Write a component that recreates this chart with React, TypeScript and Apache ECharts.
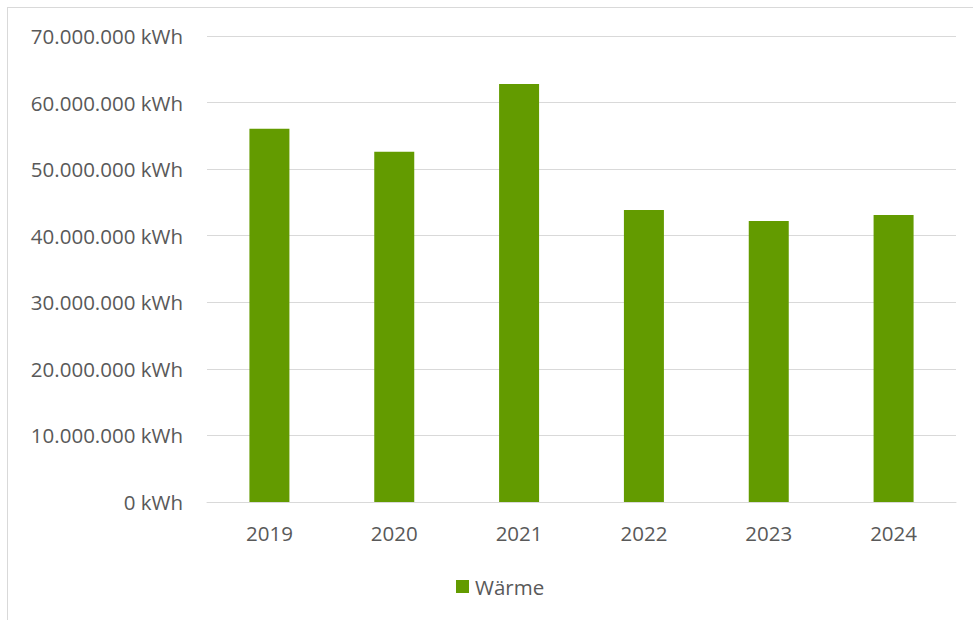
import React, { useEffect, useRef } from "react";
import * as echarts from "echarts";

const categories = ["2019", "2020", "2021", "2022", "2023", "2024"];
const waermeValues = [56050000, 52600000, 62800000, 43850000, 42200000, 43100000];
const seriesName = "Wärme";
const yMin = 0;
const yMax = 70000000;
const yInterval = 10000000;

function fmt(v: number): string {
  const s = Math.round(v).toString();
  return s.replace(/\B(?=(\d{3})+(?!\d))/g, ".") + " kWh";
}

export default function App() {
  const ref = useRef<HTMLDivElement>(null);
  useEffect(() => {
    if (!ref.current) return;
    const chart = echarts.init(ref.current, undefined, { renderer: "svg" });
    const font = "'Open Sans', 'Noto Sans', sans-serif";
    chart.setOption({
      animation: false,
      backgroundColor: "#ffffff",
      textStyle: { fontFamily: font },
      graphic: [
        { type: "line", shape: { x1: 7.5, y1: 7, x2: 7.5, y2: 620 }, style: { stroke: "#d9d9d9", lineWidth: 1 } },
        { type: "line", shape: { x1: 7, y1: 7.5, x2: 973, y2: 7.5 }, style: { stroke: "#d9d9d9", lineWidth: 1 } },
      ],
      grid: { left: 207, right: 17, top: 36, bottom: 118, containLabel: false },
      legend: {
        data: [seriesName],
        left: 456,
        top: 576,
        padding: 0,
        icon: "rect",
        itemWidth: 13,
        itemHeight: 13,
        itemGap: 6,
        textStyle: { color: "#595959", fontSize: 20.5, fontFamily: font, padding: [0, 0, 0, 1] },
      },
      xAxis: {
        type: "category",
        data: categories,
        axisLine: { show: true, lineStyle: { color: "#d9d9d9", width: 1 } },
        axisTick: { show: false },
        axisLabel: { color: "#595959", fontSize: 20.5, margin: 20, fontFamily: font },
      },
      yAxis: {
        type: "value",
        min: yMin,
        max: yMax,
        interval: yInterval,
        axisLine: { show: false },
        axisTick: { show: false },
        splitLine: { lineStyle: { color: "#d9d9d9", width: 1 } },
        axisLabel: { color: "#595959", fontSize: 20.5, margin: 24, fontFamily: font, formatter: (v: number) => fmt(v) },
      },
      series: [
        {
          name: seriesName,
          type: "bar",
          data: waermeValues,
          barWidth: 40,
          itemStyle: { color: "#639b00" },
        },
      ],
    });
    return () => chart.dispose();
  }, []);
  return (
    <div
      ref={ref}
      style={{ position: "absolute", left: 0, top: 0, width: 973, height: 620 }}
    />
  );
}
